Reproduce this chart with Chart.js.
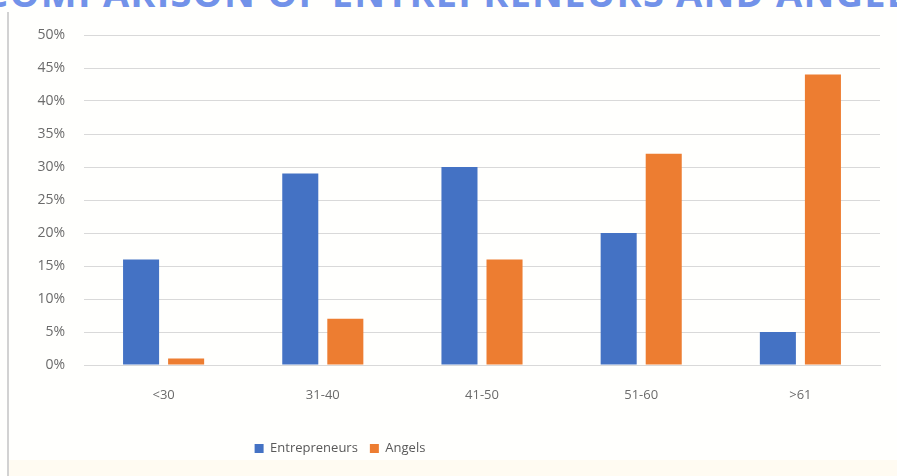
<!DOCTYPE html>
<html>
<head>
<meta charset="utf-8">
<script src="https://cdn.jsdelivr.net/npm/chart.js@4/dist/chart.umd.min.js"></script>
<style>
  html, body { margin: 0; padding: 0; background: #ffffff; }
  #wrap { position: relative; width: 897px; height: 476px; overflow: hidden; background: #fffffd; }
  #title { position: absolute; left: -16px; top: -34px; width: 1000px; white-space: nowrap;
           font-family: "Open Sans", "Liberation Sans", sans-serif; font-weight: 700; font-size: 38px;
           color: #5a80e6; letter-spacing: 1.2px; opacity: 0.85; }
  #frame { position: absolute; left: 7px; top: 12px; width: 2px; height: 470px; background: #d2d2d2; }
  #cream { position: absolute; left: 9px; top: 460px; width: 900px; height: 20px; background: #fffbf2; }
  #c { position: absolute; left: 0; top: 0; }
</style>
</head>
<body>
<div id="wrap">
  <div id="title">COMPARISON OF ENTREPRENEURS AND ANGELS</div>
  <div id="frame"></div>
  <div id="cream"></div>
  <canvas id="c" width="897" height="476"></canvas>
</div>
<script>
const categories = ['<30', '31-40', '41-50', '51-60', '>61'];
const entrepreneurs = [16, 29, 30, 20, 5];
const angels = [1, 7, 16, 32, 44];
const yTicks = [0, 5, 10, 15, 20, 25, 30, 35, 40, 45, 50];

const FONT = '"Open Sans", "Liberation Sans", sans-serif';

const legendShift = {
  id: 'legendShift',
  afterLayout(chart) {
    const lg = chart.legend;
    if (lg) { lg.left -= 104; lg.right -= 104; if (lg.legendHitBoxes) lg.legendHitBoxes.forEach(h => h.left -= 104); }
  }
};

new Chart(document.getElementById('c'), {
  type: 'bar',
  data: {
    labels: categories,
    datasets: [
      { label: 'Entrepreneurs', data: entrepreneurs, backgroundColor: '#4472C4', categoryPercentage: 0.566, barPercentage: 0.8 },
      { label: 'Angels', data: angels, backgroundColor: '#ED7D31', categoryPercentage: 0.566, barPercentage: 0.8 }
    ]
  },
  options: {
    responsive: false,
    animation: false,
    layout: { padding: { top: 35, left: 8, right: 17, bottom: 11 } },
    scales: {
      y: {
        min: 0, max: 50,
        afterBuildTicks: s => { s.ticks = yTicks.map(v => ({ value: v })); },
        afterFit: s => { s.width = 76; },
        ticks: { callback: v => v + '%', color: '#6b6b6b', padding: 19, font: { family: FONT, size: 14 } },
        grid: { color: '#d9d9d9', drawTicks: false, lineWidth: 1 },
        border: { display: false }
      },
      x: {
        afterFit: s => { s.height = 65; },
        ticks: { color: '#6b6b6b', padding: 22, font: { family: FONT, size: 13 } },
        grid: { display: false, drawTicks: false },
        border: { display: true, color: '#d9d9d9' }
      }
    },
    plugins: {
      legend: {
        position: 'bottom',
        labels: { boxWidth: 9, boxHeight: 9, padding: 12, color: '#595959', font: { family: FONT, size: 13 } }
      },
      tooltip: { enabled: false }
    }
  },
  plugins: [legendShift]
});
</script>
</body>
</html>
